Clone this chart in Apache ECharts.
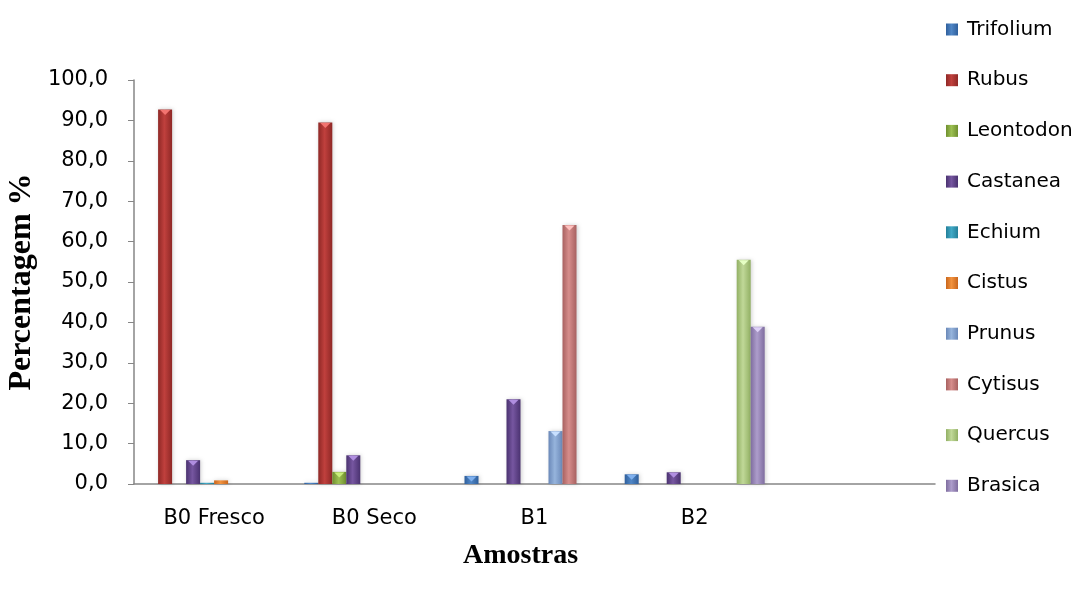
<!DOCTYPE html>
<html>
<head>
<meta charset="utf-8">
<script src="https://cdn.jsdelivr.net/npm/echarts@6/dist/echarts.min.js"></script>
<style>
  html, body { margin: 0; padding: 0; background: #fff; }
  #main { width: 1085px; height: 590px; }
</style>
</head>
<body>
<div id="main"></div>
<script>
var chartDom = document.getElementById('main');
var myChart = echarts.init(chartDom);
var option;

// amostras (ultima categoria vazia, como no original)
var categories = ['B0 Fresco', 'B0 Seco', 'B1', 'B2', ''];

var trifolium = [0, 0.3, 2.0, 2.4, 0];
var rubus     = [92.7, 89.5, 0, 0, 0];
var leontodon = [0, 3.0, 0, 0, 0];
var castanea  = [5.9, 7.1, 21.0, 2.9, 0];
var echium    = [0.3, 0, 0, 0, 0];
var cistus    = [0.9, 0, 0, 0, 0];
var prunus    = [0, 0, 13.1, 0, 0];
var cytisus   = [0, 0, 64.1, 0, 0];
var quercus   = [0, 0, 0, 55.5, 0];
var brasica   = [0, 0, 0, 38.9, 0];

var names = ['Trifolium', 'Rubus', 'Leontodon', 'Castanea', 'Echium',
  'Cistus', 'Prunus', 'Cytisus', 'Quercus', 'Brasica'];
var values = [trifolium, rubus, leontodon, castanea, echium,
  cistus, prunus, cytisus, quercus, brasica];

// [borda escura, centro, brilho do topo]
var colors = [
  ['#2f5f9c', '#4f86c6', '#7fb0ee'],
  ['#8f2826', '#c0403d', '#f27470'],
  ['#6f8f2e', '#9cc052', '#c8ee7a'],
  ['#4a3270', '#7656a0', '#b08ee0'],
  ['#237f99', '#41a9c6', '#78d8f2'],
  ['#c9661c', '#f2933f', '#ffc07a'],
  ['#6a88b8', '#96b4dc', '#c8e0ff'],
  ['#a86160', '#d68d8b', '#ffc0be'],
  ['#92b064', '#c0d898', '#e6ffc4'],
  ['#7f6d9f', '#ad9dcb', '#ddd0f6']
];

function bevel(c) {
  return {
    type: 'linear', x: 0, y: 0, x2: 1, y2: 0,
    colorStops: [
      { offset: 0, color: c[0] },
      { offset: 0.45, color: c[1] },
      { offset: 1, color: c[0] }
    ]
  };
}

var series = names.map(function (n, i) {
  var tops = [];
  values[i].forEach(function (v, j) {
    if (v >= 1.5) tops.push({ coord: [j, v], value: v });
  });
  return {
    name: n,
    type: 'bar',
    data: values[i],
    barWidth: 14,
    barGap: '0%',
    itemStyle: {
      color: bevel(colors[i]),
      shadowBlur: 4,
      shadowColor: 'rgba(0,0,0,0.18)',
      shadowOffsetX: 1
    },
    markPoint: {
      silent: true,
      symbol: 'triangle',
      symbolRotate: 180,
      symbolSize: [10, 5],
      symbolOffset: [0, 3],
      label: { show: false },
      itemStyle: { color: colors[i][2] },
      data: tops
    }
  };
});

var sansFont = 'DejaVu Sans';

option = {
  animation: false,
  backgroundColor: '#fff',
  grid: { left: 134, right: 150, top: 80, bottom: 106, outerBoundsMode: 'none', containLabel: false },
  legend: {
    orient: 'vertical',
    left: 941,
    top: 14,
    icon: 'rect',
    itemWidth: 12,
    itemHeight: 12,
    itemGap: 29.7,
    textStyle: {
      fontFamily: sansFont, fontSize: 20, color: '#000', lineHeight: 21,
      padding: [0, 0, 0, 4]
    },
    data: names
  },
  xAxis: {
    type: 'category',
    data: categories,
    name: 'Amostras',
    nameLocation: 'middle',
    nameGap: 58,
    nameTextStyle: {
      fontFamily: 'Liberation Serif', fontWeight: 'bold', fontSize: 28, color: '#000',
      padding: [0, 28, 0, 0]
    },
    axisLine: { lineStyle: { color: '#868686', width: 1.5 } },
    axisTick: { show: false },
    axisLabel: { fontFamily: sansFont, fontSize: 21, color: '#000', margin: 24 }
  },
  yAxis: {
    type: 'value',
    min: 0,
    max: 100,
    interval: 10,
    name: 'Percentagem %',
    nameLocation: 'middle',
    nameGap: 96,
    nameMoveOverlap: false,
    nameTextStyle: { fontFamily: 'Liberation Serif', fontWeight: 'bold', fontSize: 32, color: '#000' },
    axisLine: { show: true, lineStyle: { color: '#868686', width: 1.5 } },
    axisTick: { show: true, length: 6, lineStyle: { color: '#868686' } },
    splitLine: { show: false },
    axisLabel: {
      fontFamily: sansFont, fontSize: 21, color: '#000', margin: 26,
      formatter: function (v) { return v.toFixed(1).replace('.', ','); }
    }
  },
  series: series
};

option && myChart.setOption(option);
</script>
</body>
</html>
